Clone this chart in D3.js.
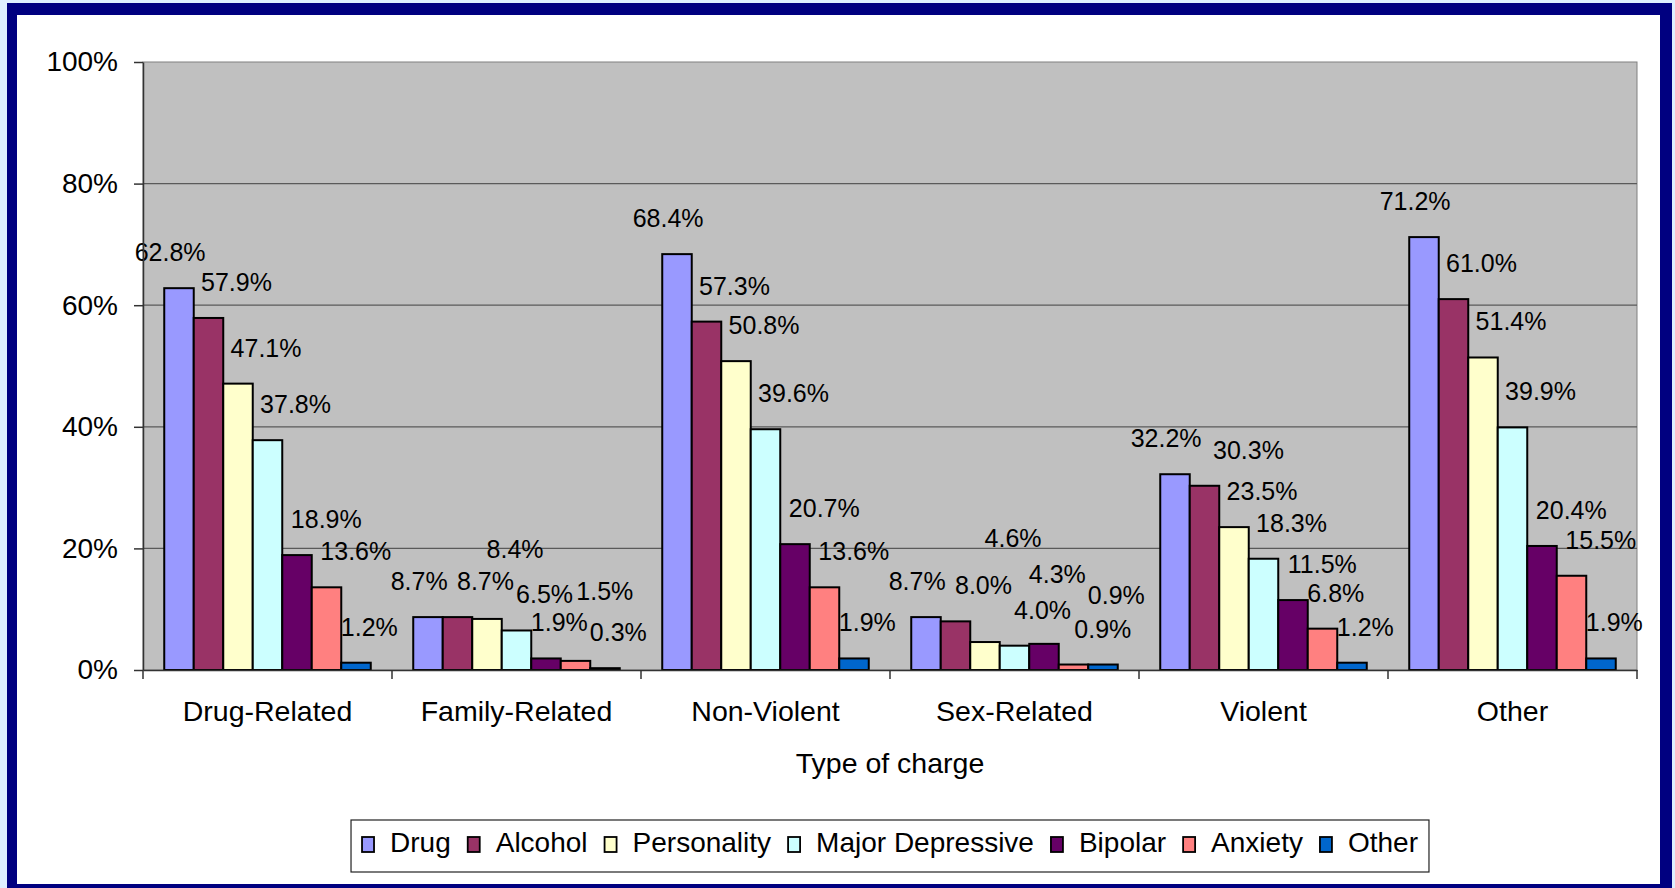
<!DOCTYPE html>
<html>
<head>
<meta charset="utf-8">
<script src="https://cdn.jsdelivr.net/npm/d3@7"></script>
<style>
    body { margin: 0; background: #dff0ff; }
    svg { display: block; font-family: 'Liberation Sans', Arial, sans-serif; }
</style>
</head>
<body>
<svg id="chart" width="1675" height="888"></svg>
<script>
const categories = ['Drug-Related', 'Family-Related', 'Non-Violent', 'Sex-Related', 'Violent', 'Other']
const seriesNames = ['Drug', 'Alcohol', 'Personality', 'Major Depressive', 'Bipolar', 'Anxiety', 'Other']

// one array per series, in category order
const drug = [62.8, 8.7, 68.4, 8.7, 32.2, 71.2]
const alcohol = [57.9, 8.7, 57.3, 8.0, 30.3, 61.0]
const personality = [47.1, 8.4, 50.8, 4.6, 23.5, 51.4]
const majorDepressive = [37.8, 6.5, 39.6, 4.0, 18.3, 39.9]
const bipolar = [18.9, 1.9, 20.7, 4.3, 11.5, 20.4]
const anxiety = [13.6, 1.5, 13.6, 0.9, 6.8, 15.5]
const otherDx = [1.2, 0.3, 1.9, 0.9, 1.2, 1.9]

const yTicks = [0, 20, 40, 60, 80, 100]
const xTitle = 'Type of charge'

const seriesValues = [drug, alcohol, personality, majorDepressive, bipolar, anxiety, otherDx]
const colours = ['#9999ff', '#993366', '#ffffcc', '#ccffff', '#660066', '#ff8080', '#0066cc']

const svg = d3.select('#chart')

// frame: navy border on a white card
svg.append('rect').attr('x', 7).attr('y', 3).attr('width', 1665).attr('height', 895).attr('fill', '#000080')
svg.append('rect').attr('x', 17).attr('y', 15).attr('width', 1643).attr('height', 869).attr('fill', '#ffffff')

const plot = { left: 143, top: 62, right: 1637, bottom: 670 }
const width = plot.right - plot.left
const height = plot.bottom - plot.top

const chart = svg.append('g').attr('transform', `translate(${plot.left}, ${plot.top})`)

const x0 = d3.scaleBand().domain(categories).range([0, width])
const x1 = d3.scaleBand().domain(seriesNames).range([0, x0.bandwidth()]).paddingOuter(0.72)
const y = d3.scaleLinear().domain([0, 100]).range([height, 0])

chart.append('rect')
    .attr('width', width)
    .attr('height', height)
    .attr('fill', '#c0c0c0')
    .attr('stroke', '#808080')
    .attr('stroke-width', 1)

chart.append('g')
    .selectAll('line')
    .data(yTicks.filter(d => d > 0 && d < 100))
    .join('line')
    .attr('x1', 0)
    .attr('x2', width)
    .attr('y1', d => y(d))
    .attr('y2', d => y(d))
    .attr('stroke', '#5a5a5a')
    .attr('stroke-width', 1.3)

// bars
const rows = categories.map((c, ci) => ({
    category: c,
    values: seriesNames.map((s, si) => ({ series: s, index: si, value: seriesValues[si][ci] }))
}))

const groups = chart.append('g')
    .selectAll('g')
    .data(rows)
    .join('g')
    .attr('transform', d => `translate(${x0(d.category)}, 0)`)

groups.selectAll('rect')
    .data(d => d.values)
    .join('rect')
    .attr('x', d => x1(d.series))
    .attr('y', d => y(d.value))
    .attr('width', x1.bandwidth())
    .attr('height', d => y(0) - y(d.value))
    .attr('fill', d => colours[d.index])
    .attr('stroke', '#000')
    .attr('stroke-width', 2)

// data labels sit above the bars, nudged right like the original
const labelDx = i => i === 0 ? -0.3 * x1.bandwidth() : (i <= 3 ? 0.95 : 0.45) * x1.bandwidth()

const overlaps = (a, b, slack) =>
    a.x < b.x + b.width - slack && b.x < a.x + a.width - slack &&
    a.y < b.y + b.height - slack && b.y < a.y + a.height - slack

groups.each(function () {
    const group = d3.select(this)
    const obstacles = []
    group.selectAll('rect').each(function () { obstacles.push(this.getBBox()) })

    group.selectAll('text')
        .data(d => d.values)
        .join('text')
        .attr('x', d => x1(d.series) + x1.bandwidth() / 2 + labelDx(d.index))
        .attr('y', d => y(d.value) - 27)
        .attr('text-anchor', 'middle')
        .style('font-size', '25px')
        .attr('fill', '#000')
        .text(d => d.value.toFixed(1) + '%')
        .each(function () {
            // small bars crowd their labels: nudge right or lift a label until it is clear
            const label = d3.select(this)
            const baseX = +label.attr('x')
            const baseY = +label.attr('y')
            const tries = []
            for (const dy of [0, -34, -68, -102])
                for (const dx of [0, 16, -16]) tries.push([dx, dy])
            for (const [dx, dy] of tries) {
                label.attr('x', baseX + dx).attr('y', baseY + dy)
                const box = this.getBBox()
                if (!obstacles.some(o => overlaps(box, o, 4))) break
            }
            obstacles.push(this.getBBox())
        })
})

// y axis
chart.append('g')
    .style('font-size', '28px')
    .call(
        d3.axisLeft(y)
            .tickValues(yTicks)
            .tickSize(9)
            .tickSizeOuter(0)
            .tickPadding(16)
            .tickFormat(d => d + '%')
    )
    .call(g => {
        g.select('.domain').attr('stroke', '#333').attr('stroke-width', 1.5)
        g.selectAll('.tick line').attr('stroke', '#333').attr('stroke-width', 1.5)
        g.selectAll('text').attr('fill', '#000').attr('font-family', null)
    })

// x axis: labels centred in each band, ticks on the band edges
chart.append('g')
    .attr('transform', `translate(0, ${height})`)
    .style('font-size', '28.5px')
    .call(d3.axisBottom(x0).tickSize(0).tickSizeOuter(0).tickPadding(31))
    .call(g => {
        g.select('.domain').attr('stroke', '#333').attr('stroke-width', 1.5)
        g.selectAll('text').attr('fill', '#000').attr('font-family', null)
    })

chart.append('g')
    .selectAll('line')
    .data(categories.map(c => x0(c)).concat([width]))
    .join('line')
    .attr('x1', d => d)
    .attr('x2', d => d)
    .attr('y1', height)
    .attr('y2', height + 9)
    .attr('stroke', '#333')
    .attr('stroke-width', 1.5)

chart.append('text')
    .attr('x', width / 2)
    .attr('y', height + 103)
    .attr('text-anchor', 'middle')
    .style('font-size', '28.5px')
    .text(xTitle)

// legend
const legend = svg.append('g')
const legendBox = legend.append('rect')
    .attr('fill', '#fff')
    .attr('stroke', '#222')
    .attr('stroke-width', 1.2)

let cursor = 11
seriesNames.forEach((name, i) => {
    legend.append('rect')
        .attr('x', cursor)
        .attr('y', 17)
        .attr('width', 12)
        .attr('height', 15)
        .attr('fill', colours[i])
        .attr('stroke', '#000')
        .attr('stroke-width', 1.8)
    const t = legend.append('text')
        .attr('x', cursor + 12 + 16)
        .attr('y', 32)
        .style('font-size', '28px')
        .text(name)
    cursor += 12 + 16 + t.node().getComputedTextLength() + 17
})
const legendWidth = cursor - 17 + 11
legendBox.attr('width', legendWidth).attr('height', 52)
legend.attr('transform', `translate(${plot.left + width / 2 - legendWidth / 2}, 820)`)
</script>
</body>
</html>
